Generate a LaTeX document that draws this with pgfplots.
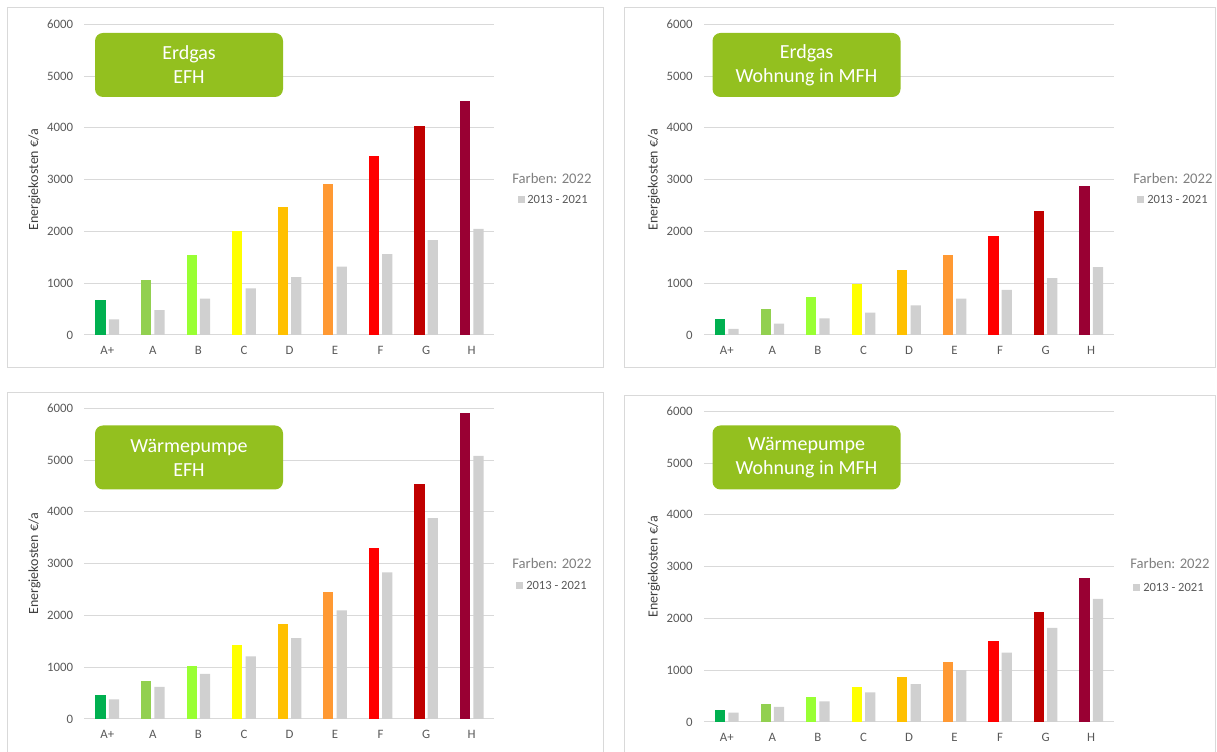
\documentclass[border=0pt]{standalone}
\usepackage{pgfplots}
\pgfplotsset{compat=1.18}
\usepackage{fontspec}
\setmainfont{Carlito}
\definecolor{cAp}{HTML}{00B050}
\definecolor{cA}{HTML}{92D050}
\definecolor{cB}{HTML}{99FF33}
\definecolor{cC}{HTML}{FFFF00}
\definecolor{cD}{HTML}{FFC000}
\definecolor{cE}{HTML}{FF9933}
\definecolor{cF}{HTML}{FF0000}
\definecolor{cG}{HTML}{C00000}
\definecolor{cH}{HTML}{990033}
\definecolor{barGray}{HTML}{D0D0D0}
\definecolor{gridGray}{HTML}{D9D9D9}
\definecolor{frameGray}{HTML}{D9D9D9}
\definecolor{tickGray}{HTML}{595959}
\definecolor{labelGray}{HTML}{404040}
\definecolor{legGray}{HTML}{7F7F7F}
\definecolor{boxGreen}{HTML}{93C01F}
\pgfplotsset{
  panel/.style={
    scale only axis, width=307.5pt, height=233pt,
    xmin=-0.5, xmax=8.5, ymin=0, ymax=6000,
    xtick={0,...,8}, xticklabels={A+,A,B,C,D,E,F,G,H},
    ytick={0,1000,...,6000},
    ymajorgrids, grid style={draw=gridGray, line width=0.75pt},
    axis line style={draw=none}, major tick length=0pt,
    tick label style={font=\fontsize{9.6}{11}\selectfont, text=tickGray},
    /pgf/number format/assume math mode=true,
    /pgf/number format/1000 sep={},
    scaled y ticks=false,
    yticklabel style={xshift=-5pt},
    xticklabel style={yshift=-5pt},
    ylabel={Energiekosten €/a},
    ylabel style={at={(axis description cs:-0.122,0.5)}, anchor=center,
      font=\fontsize{10.5}{12}\selectfont, text=labelGray},
    clip=false,
  },
  cbar/.style={ybar, bar width=0.225, bar shift=-0.147, draw=none},
  gbar/.style={ybar, bar width=0.225, bar shift=0.147, draw=none, fill=barGray},
}
\tikzset{
  titlebox/.style={fill=boxGreen, rounded corners=6pt, minimum width=141pt,
    minimum height=48pt, text=white, align=center,
    font=\fontsize{15}{18}\selectfont, inner sep=0pt},
  legA/.style={anchor=base west, inner sep=0pt, text=legGray, font=\fontsize{11}{13}\selectfont},
  legB/.style={anchor=base west, inner sep=0pt, text=tickGray, font=\fontsize{9.4}{11}\selectfont},
}
\begin{document}
\begin{tikzpicture}[x=0.75pt,y=0.75pt]
\useasboundingbox (0,0) rectangle (1217,752);
% frames
\draw[frameGray, line width=0.75pt] (7.5,744) rectangle (603.5,384);
\draw[frameGray, line width=0.75pt] (624,744) rectangle (1215,384);
\draw[frameGray, line width=0.75pt] (7.5,-2) -- (7.5,359) -- (603.5,359) -- (603.5,-2);
\draw[frameGray, line width=0.75pt] (624,-2) -- (624,356) -- (1215,356) -- (1215,-2);

% ---------- Panel 1: Erdgas EFH ----------
\begin{axis}[panel, at={(84.5*0.75pt,417*0.75pt)}, anchor=south west]
\addplot[cbar, fill=cAp] coordinates {(0,670)};
\addplot[cbar, fill=cA]  coordinates {(1,1070)};
\addplot[cbar, fill=cB]  coordinates {(2,1550)};
\addplot[cbar, fill=cC]  coordinates {(3,2000)};
\addplot[cbar, fill=cD]  coordinates {(4,2480)};
\addplot[cbar, fill=cE]  coordinates {(5,2920)};
\addplot[cbar, fill=cF]  coordinates {(6,3450)};
\addplot[cbar, fill=cG]  coordinates {(7,4030)};
\addplot[cbar, fill=cH]  coordinates {(8,4520)};
\addplot[gbar] coordinates {(0,300) (1,480) (2,700) (3,900) (4,1120) (5,1320) (6,1560) (7,1830) (8,2050)};
\end{axis}

% ---------- Panel 2: Erdgas Wohnung in MFH ----------
\begin{axis}[panel, at={(704*0.75pt,417*0.75pt)}, anchor=south west]
\addplot[cbar, fill=cAp] coordinates {(0,300)};
\addplot[cbar, fill=cA]  coordinates {(1,500)};
\addplot[cbar, fill=cB]  coordinates {(2,740)};
\addplot[cbar, fill=cC]  coordinates {(3,980)};
\addplot[cbar, fill=cD]  coordinates {(4,1260)};
\addplot[cbar, fill=cE]  coordinates {(5,1550)};
\addplot[cbar, fill=cF]  coordinates {(6,1920)};
\addplot[cbar, fill=cG]  coordinates {(7,2400)};
\addplot[cbar, fill=cH]  coordinates {(8,2880)};
\addplot[gbar] coordinates {(0,120) (1,220) (2,320) (3,430) (4,570) (5,700) (6,870) (7,1100) (8,1310)};
\end{axis}

% ---------- Panel 3: Waermepumpe EFH ----------
\begin{axis}[panel, at={(84.5*0.75pt,33*0.75pt)}, anchor=south west]
\addplot[cbar, fill=cAp] coordinates {(0,470)};
\addplot[cbar, fill=cA]  coordinates {(1,740)};
\addplot[cbar, fill=cB]  coordinates {(2,1030)};
\addplot[cbar, fill=cC]  coordinates {(3,1430)};
\addplot[cbar, fill=cD]  coordinates {(4,1840)};
\addplot[cbar, fill=cE]  coordinates {(5,2460)};
\addplot[cbar, fill=cF]  coordinates {(6,3310)};
\addplot[cbar, fill=cG]  coordinates {(7,4530)};
\addplot[cbar, fill=cH]  coordinates {(8,5910)};
\addplot[gbar] coordinates {(0,380) (1,620) (2,870) (3,1210) (4,1560) (5,2100) (6,2830) (7,3880) (8,5080)};
\end{axis}

% ---------- Panel 4: Waermepumpe Wohnung in MFH ----------
\begin{axis}[panel, at={(704*0.75pt,30*0.75pt)}, anchor=south west]
\addplot[cbar, fill=cAp] coordinates {(0,230)};
\addplot[cbar, fill=cA]  coordinates {(1,340)};
\addplot[cbar, fill=cB]  coordinates {(2,480)};
\addplot[cbar, fill=cC]  coordinates {(3,680)};
\addplot[cbar, fill=cD]  coordinates {(4,860)};
\addplot[cbar, fill=cE]  coordinates {(5,1150)};
\addplot[cbar, fill=cF]  coordinates {(6,1560)};
\addplot[cbar, fill=cG]  coordinates {(7,2130)};
\addplot[cbar, fill=cH]  coordinates {(8,2780)};
\addplot[gbar] coordinates {(0,180) (1,290) (2,400) (3,570) (4,730) (5,1000) (6,1340) (7,1820) (8,2380)};
\end{axis}

% title boxes
\node[titlebox] at (189,687) {Erdgas\\EFH};
\node[titlebox] at (806.5,687) {Erdgas\\Wohnung in MFH};
\node[titlebox] at (189,294.5) {Wärmepumpe\\EFH};
\node[titlebox] at (806.5,294.5) {Wärmepumpe\\Wohnung in MFH};

% legends
\node[legA] at (512,568) {Farben: 2022};
\fill[barGray] (517.5,549) rectangle (524.5,556);
\node[legB] at (527,548) {2013 - 2021};

\node[legA] at (1133,568) {Farben: 2022};
\fill[barGray] (1137,549) rectangle (1144,556);
\node[legB] at (1147,548) {2013 - 2021};

\node[legA] at (512,183) {Farben: 2022};
\fill[barGray] (516,163) rectangle (523,170);
\node[legB] at (526,162) {2013 - 2021};

\node[legA] at (1130,183) {Farben: 2022};
\fill[barGray] (1133,161) rectangle (1140,168);
\node[legB] at (1143,160) {2013 - 2021};
\end{tikzpicture}
\end{document}
